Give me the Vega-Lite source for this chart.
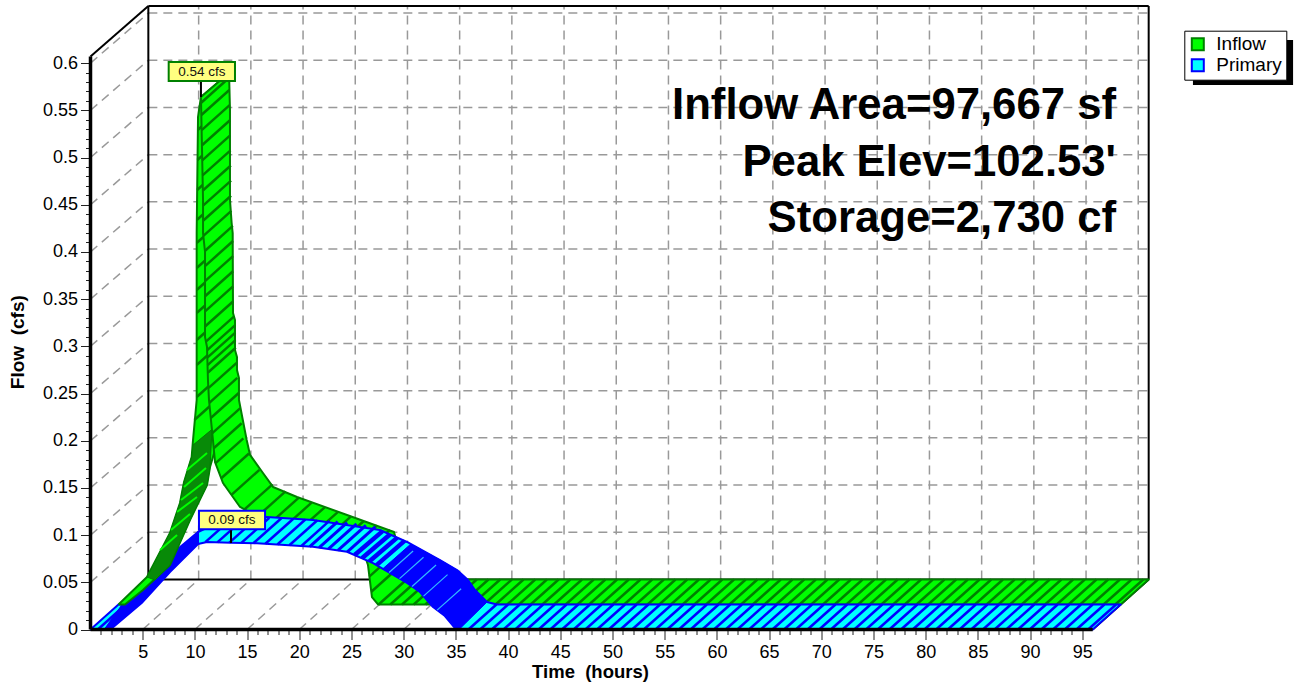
{"$schema":"https://vega.github.io/schema/vega-lite/v6.json","autosize":"none","padding":{"left":90.5,"top":5,"right":235.5,"bottom":52.5},"width":1058.5,"height":624.5,"background":"white",
"datasets":{
"polys":[
{"p":"BA1","s":"Primary","i":0,"x":0,"y":0},{"p":"BA1","s":"Primary","i":1,"x":1.39,"y":0},{"p":"BA1","s":"Primary","i":2,"x":3.11,"y":0.0265},{"p":"BA1","s":"Primary","i":3,"x":2.68,"y":0.0265},{"p":"BA1","s":"Primary","i":4,"x":0,"y":0},
{"p":"BA2","s":"Primary","i":0,"x":1.39,"y":0},{"p":"BA2","s":"Primary","i":1,"x":1.96,"y":0.0005},{"p":"BA2","s":"Primary","i":2,"x":4.9,"y":0.0281},{"p":"BA2","s":"Primary","i":3,"x":7.61,"y":0.0609},{"p":"BA2","s":"Primary","i":4,"x":10.3,"y":0.0906},{"p":"BA2","s":"Primary","i":5,"x":12.98,"y":0.1171},{"p":"BA2","s":"Primary","i":6,"x":10.3,"y":0.1033},{"p":"BA2","s":"Primary","i":7,"x":7.9,"y":0.081},{"p":"BA2","s":"Primary","i":8,"x":5.7,"y":0.0577},{"p":"BA2","s":"Primary","i":9,"x":3.3,"y":0.027},{"p":"BA2","s":"Primary","i":10,"x":3.11,"y":0.0265},{"p":"BA2","s":"Primary","i":11,"x":1.39,"y":0},
{"p":"RG","s":"Inflow","i":0,"x":2.68,"y":0.0265},{"p":"RG","s":"Inflow","i":1,"x":5.41,"y":0.0556},{"p":"RG","s":"Inflow","i":2,"x":7.61,"y":0.1022},{"p":"RG","s":"Inflow","i":3,"x":8.57,"y":0.134},{"p":"RG","s":"Inflow","i":4,"x":8.96,"y":0.1563},{"p":"RG","s":"Inflow","i":5,"x":9.69,"y":0.1827},{"p":"RG","s":"Inflow","i":6,"x":9.82,"y":0.2007},{"p":"RG","s":"Inflow","i":7,"x":10.17,"y":0.2431},{"p":"RG","s":"Inflow","i":8,"x":10.17,"y":0.42},{"p":"RG","s":"Inflow","i":9,"x":10.3,"y":0.5429},{"p":"RG","s":"Inflow","i":10,"x":10.58,"y":0.5641},{"p":"RG","s":"Inflow","i":11,"x":13.27,"y":0.5895},{"p":"RG","s":"Inflow","i":12,"x":11.93,"y":0.1901},{"p":"RG","s":"Inflow","i":13,"x":11.45,"y":0.1721},{"p":"RG","s":"Inflow","i":14,"x":11.16,"y":0.1531},{"p":"RG","s":"Inflow","i":15,"x":9.53,"y":0.116},{"p":"RG","s":"Inflow","i":16,"x":7.61,"y":0.0683},{"p":"RG","s":"Inflow","i":17,"x":5.03,"y":0.0418},{"p":"RG","s":"Inflow","i":18,"x":3.3,"y":0.0265},{"p":"RG","s":"Inflow","i":19,"x":2.68,"y":0.0265},
{"p":"DG","s":"Inflow","i":0,"x":5.41,"y":0.0556},{"p":"DG","s":"Inflow","i":1,"x":7.61,"y":0.1022},{"p":"DG","s":"Inflow","i":2,"x":8.57,"y":0.134},{"p":"DG","s":"Inflow","i":3,"x":8.96,"y":0.1563},{"p":"DG","s":"Inflow","i":4,"x":9.69,"y":0.1827},{"p":"DG","s":"Inflow","i":5,"x":9.82,"y":0.1954},{"p":"DG","s":"Inflow","i":6,"x":11.64,"y":0.212},{"p":"DG","s":"Inflow","i":7,"x":11.45,"y":0.1721},{"p":"DG","s":"Inflow","i":8,"x":11.16,"y":0.1531},{"p":"DG","s":"Inflow","i":9,"x":9.53,"y":0.116},{"p":"DG","s":"Inflow","i":10,"x":7.61,"y":0.0683},{"p":"DG","s":"Inflow","i":11,"x":6.18,"y":0.0524},{"p":"DG","s":"Inflow","i":12,"x":5.41,"y":0.0556},
{"p":"FG","s":"Inflow","i":0,"x":10.58,"y":0.5641},{"p":"FG","s":"Inflow","i":1,"x":10.78,"y":0.455},{"p":"FG","s":"Inflow","i":2,"x":10.78,"y":0.42},{"p":"FG","s":"Inflow","i":3,"x":10.97,"y":0.3999},{"p":"FG","s":"Inflow","i":4,"x":10.97,"y":0.3098},{"p":"FG","s":"Inflow","i":5,"x":11.16,"y":0.2993},{"p":"FG","s":"Inflow","i":6,"x":11.25,"y":0.2643},{"p":"FG","s":"Inflow","i":7,"x":11.35,"y":0.2431},{"p":"FG","s":"Inflow","i":8,"x":11.73,"y":0.2007},{"p":"FG","s":"Inflow","i":9,"x":11.93,"y":0.1774},{"p":"FG","s":"Inflow","i":10,"x":12.69,"y":0.1552},{"p":"FG","s":"Inflow","i":11,"x":14.32,"y":0.1298},{"p":"FG","s":"Inflow","i":12,"x":17,"y":0.1139},{"p":"FG","s":"Inflow","i":13,"x":21.79,"y":0.0948},{"p":"FG","s":"Inflow","i":14,"x":26.29,"y":0.0779},{"p":"FG","s":"Inflow","i":15,"x":26.58,"y":0.0683},{"p":"FG","s":"Inflow","i":16,"x":26.96,"y":0.0344},{"p":"FG","s":"Inflow","i":17,"x":27.54,"y":0.0265},{"p":"FG","s":"Inflow","i":18,"x":98.68,"y":0.0265},{"p":"FG","s":"Inflow","i":19,"x":101.36,"y":0.053},{"p":"FG","s":"Inflow","i":20,"x":30.32,"y":0.053},{"p":"FG","s":"Inflow","i":21,"x":29.07,"y":0.1033},{"p":"FG","s":"Inflow","i":22,"x":24.57,"y":0.1213},{"p":"FG","s":"Inflow","i":23,"x":19.78,"y":0.1404},{"p":"FG","s":"Inflow","i":24,"x":17.48,"y":0.151},{"p":"FG","s":"Inflow","i":25,"x":16.52,"y":0.1658},{"p":"FG","s":"Inflow","i":26,"x":15.28,"y":0.1849},{"p":"FG","s":"Inflow","i":27,"x":14.96,"y":0.2007},{"p":"FG","s":"Inflow","i":28,"x":14.22,"y":0.2431},{"p":"FG","s":"Inflow","i":29,"x":14.22,"y":0.2664},{"p":"FG","s":"Inflow","i":30,"x":14.03,"y":0.2749},{"p":"FG","s":"Inflow","i":31,"x":14.03,"y":0.2887},{"p":"FG","s":"Inflow","i":32,"x":13.84,"y":0.2961},{"p":"FG","s":"Inflow","i":33,"x":13.84,"y":0.3279},{"p":"FG","s":"Inflow","i":34,"x":13.65,"y":0.3353},{"p":"FG","s":"Inflow","i":35,"x":13.62,"y":0.42},{"p":"FG","s":"Inflow","i":36,"x":13.52,"y":0.4306},{"p":"FG","s":"Inflow","i":37,"x":13.36,"y":0.455},{"p":"FG","s":"Inflow","i":38,"x":13.36,"y":0.5503},{"p":"FG","s":"Inflow","i":39,"x":13.27,"y":0.5895},{"p":"FG","s":"Inflow","i":40,"x":10.58,"y":0.5641},
{"p":"BC","s":"Primary","i":0,"x":10.3,"y":0.0906},{"p":"BC","s":"Primary","i":1,"x":11.16,"y":0.0927},{"p":"BC","s":"Primary","i":2,"x":13.46,"y":0.0919},{"p":"BC","s":"Primary","i":3,"x":15.95,"y":0.0913},{"p":"BC","s":"Primary","i":4,"x":21.31,"y":0.0877},{"p":"BC","s":"Primary","i":5,"x":24.57,"y":0.0824},{"p":"BC","s":"Primary","i":6,"x":27.06,"y":0.0704},{"p":"BC","s":"Primary","i":7,"x":30.32,"y":0.0493},{"p":"BC","s":"Primary","i":8,"x":31.56,"y":0.0397},{"p":"BC","s":"Primary","i":9,"x":32.81,"y":0.0238},{"p":"BC","s":"Primary","i":10,"x":33.95,"y":0.0143},{"p":"BC","s":"Primary","i":11,"x":34.91,"y":0.0016},{"p":"BC","s":"Primary","i":12,"x":35.3,"y":0},{"p":"BC","s":"Primary","i":13,"x":96,"y":0},{"p":"BC","s":"Primary","i":14,"x":98.68,"y":0.0265},{"p":"BC","s":"Primary","i":15,"x":38.94,"y":0.0265},{"p":"BC","s":"Primary","i":16,"x":37.98,"y":0.0291},{"p":"BC","s":"Primary","i":17,"x":36.83,"y":0.0418},{"p":"BC","s":"Primary","i":18,"x":36.16,"y":0.0524},{"p":"BC","s":"Primary","i":19,"x":35.11,"y":0.063},{"p":"BC","s":"Primary","i":20,"x":33.48,"y":0.0736},{"p":"BC","s":"Primary","i":21,"x":30.32,"y":0.0927},{"p":"BC","s":"Primary","i":22,"x":27.73,"y":0.1054},{"p":"BC","s":"Primary","i":23,"x":21.31,"y":0.116},{"p":"BC","s":"Primary","i":24,"x":16.91,"y":0.1192},{"p":"BC","s":"Primary","i":25,"x":12.98,"y":0.1171},{"p":"BC","s":"Primary","i":26,"x":10.3,"y":0.1033},{"p":"BC","s":"Primary","i":27,"x":10.3,"y":0.0906},
{"p":"BD","s":"Primary","i":0,"x":28,"y":0.0643},{"p":"BD","s":"Primary","i":1,"x":30.32,"y":0.0493},{"p":"BD","s":"Primary","i":2,"x":31.56,"y":0.0397},{"p":"BD","s":"Primary","i":3,"x":32.81,"y":0.0238},{"p":"BD","s":"Primary","i":4,"x":33.95,"y":0.0143},{"p":"BD","s":"Primary","i":5,"x":34.91,"y":0.0016},{"p":"BD","s":"Primary","i":6,"x":35.3,"y":0},{"p":"BD","s":"Primary","i":7,"x":37.98,"y":0.0291},{"p":"BD","s":"Primary","i":8,"x":36.83,"y":0.0418},{"p":"BD","s":"Primary","i":9,"x":36.16,"y":0.0524},{"p":"BD","s":"Primary","i":10,"x":35.11,"y":0.063},{"p":"BD","s":"Primary","i":11,"x":33.48,"y":0.0736},{"p":"BD","s":"Primary","i":12,"x":30.68,"y":0.0905},{"p":"BD","s":"Primary","i":13,"x":28,"y":0.0643}
],
"lines":[
{"g":"dash","x":5.54,"y":0.103,"x2":101.36,"y2":0.103},{"g":"dash","x":5.54,"y":0.153,"x2":101.36,"y2":0.153},{"g":"dash","x":5.54,"y":0.203,"x2":101.36,"y2":0.203},{"g":"dash","x":5.54,"y":0.253,"x2":101.36,"y2":0.253},{"g":"dash","x":5.54,"y":0.303,"x2":101.36,"y2":0.303},{"g":"dash","x":5.54,"y":0.353,"x2":101.36,"y2":0.353},{"g":"dash","x":5.54,"y":0.403,"x2":101.36,"y2":0.403},{"g":"dash","x":5.54,"y":0.453,"x2":101.36,"y2":0.453},{"g":"dash","x":5.54,"y":0.503,"x2":101.36,"y2":0.503},{"g":"dash","x":5.54,"y":0.553,"x2":101.36,"y2":0.553},{"g":"dash","x":5.54,"y":0.603,"x2":101.36,"y2":0.603},{"g":"dash","x":5.54,"y":0.653,"x2":101.36,"y2":0.653},
{"g":"dash","x":10.36,"y":0.053,"x2":10.36,"y2":0.6605},{"g":"dash","x":15.36,"y":0.053,"x2":15.36,"y2":0.6605},{"g":"dash","x":20.36,"y":0.053,"x2":20.36,"y2":0.6605},{"g":"dash","x":25.36,"y":0.053,"x2":25.36,"y2":0.6605},{"g":"dash","x":30.36,"y":0.053,"x2":30.36,"y2":0.6605},{"g":"dash","x":35.36,"y":0.053,"x2":35.36,"y2":0.6605},{"g":"dash","x":40.36,"y":0.053,"x2":40.36,"y2":0.6605},{"g":"dash","x":45.36,"y":0.053,"x2":45.36,"y2":0.6605},{"g":"dash","x":50.36,"y":0.053,"x2":50.36,"y2":0.6605},{"g":"dash","x":55.36,"y":0.053,"x2":55.36,"y2":0.6605},{"g":"dash","x":60.36,"y":0.053,"x2":60.36,"y2":0.6605},{"g":"dash","x":65.36,"y":0.053,"x2":65.36,"y2":0.6605},{"g":"dash","x":70.36,"y":0.053,"x2":70.36,"y2":0.6605},{"g":"dash","x":75.36,"y":0.053,"x2":75.36,"y2":0.6605},{"g":"dash","x":80.36,"y":0.053,"x2":80.36,"y2":0.6605},{"g":"dash","x":85.36,"y":0.053,"x2":85.36,"y2":0.6605},{"g":"dash","x":90.36,"y":0.053,"x2":90.36,"y2":0.6605},{"g":"dash","x":95.36,"y":0.053,"x2":95.36,"y2":0.6605},{"g":"dash","x":100.36,"y":0.053,"x2":100.36,"y2":0.6605},
{"g":"dash","x":0,"y":0.05,"x2":5.54,"y2":0.103},{"g":"dash","x":0,"y":0.1,"x2":5.54,"y2":0.153},{"g":"dash","x":0,"y":0.15,"x2":5.54,"y2":0.203},{"g":"dash","x":0,"y":0.2,"x2":5.54,"y2":0.253},{"g":"dash","x":0,"y":0.25,"x2":5.54,"y2":0.303},{"g":"dash","x":0,"y":0.3,"x2":5.54,"y2":0.353},{"g":"dash","x":0,"y":0.35,"x2":5.54,"y2":0.403},{"g":"dash","x":0,"y":0.4,"x2":5.54,"y2":0.453},{"g":"dash","x":0,"y":0.45,"x2":5.54,"y2":0.503},{"g":"dash","x":0,"y":0.5,"x2":5.54,"y2":0.553},{"g":"dash","x":0,"y":0.55,"x2":5.54,"y2":0.603},{"g":"dash","x":0,"y":0.6,"x2":5.54,"y2":0.653},
{"g":"dash","x":5,"y":0,"x2":10.36,"y2":0.053},{"g":"dash","x":10,"y":0,"x2":15.36,"y2":0.053},{"g":"dash","x":15,"y":0,"x2":20.36,"y2":0.053},{"g":"dash","x":20,"y":0,"x2":25.36,"y2":0.053},{"g":"dash","x":25,"y":0,"x2":30.36,"y2":0.053},{"g":"dash","x":30,"y":0,"x2":35.36,"y2":0.053},{"g":"dash","x":35,"y":0,"x2":40.36,"y2":0.053},{"g":"dash","x":40,"y":0,"x2":45.36,"y2":0.053},{"g":"dash","x":45,"y":0,"x2":50.36,"y2":0.053},{"g":"dash","x":50,"y":0,"x2":55.36,"y2":0.053},{"g":"dash","x":55,"y":0,"x2":60.36,"y2":0.053},{"g":"dash","x":60,"y":0,"x2":65.36,"y2":0.053},{"g":"dash","x":65,"y":0,"x2":70.36,"y2":0.053},{"g":"dash","x":70,"y":0,"x2":75.36,"y2":0.053},{"g":"dash","x":75,"y":0,"x2":80.36,"y2":0.053},{"g":"dash","x":80,"y":0,"x2":85.36,"y2":0.053},{"g":"dash","x":85,"y":0,"x2":90.36,"y2":0.053},{"g":"dash","x":90,"y":0,"x2":95.36,"y2":0.053},{"g":"dash","x":95,"y":0,"x2":100.36,"y2":0.053},
{"g":"back","x":5.54,"y":0.053,"x2":5.54,"y2":0.6605},{"g":"back","x":5.54,"y":0.6605,"x2":101.36,"y2":0.6605},{"g":"back","x":101.36,"y":0.053,"x2":101.36,"y2":0.6605},{"g":"back","x":0,"y":0.607,"x2":5.54,"y2":0.6605},{"g":"back","x":96,"y":0,"x2":101.36,"y2":0.053},{"g":"back","x":5.54,"y":0.053,"x2":101.36,"y2":0.053},
{"g":"front","x":0,"y":0,"x2":0,"y2":0.607},{"g":"front","x":0,"y":0,"x2":96,"y2":0},
{"g":"lead","x":10.58,"y":0.5811,"x2":10.58,"y2":0.5641},{"g":"lead","x":13.46,"y":0.1061,"x2":13.46,"y2":0.0916},
{"g":"a1","x":0.7,"y":0,"x2":3.38,"y2":0.0265},
{"g":"r","x":10.27,"y":0.5291,"x2":12.95,"y2":0.5556},{"g":"r","x":10.24,"y":0.4974,"x2":12.92,"y2":0.5239},{"g":"r","x":10.21,"y":0.4656,"x2":12.89,"y2":0.4921},{"g":"r","x":10.18,"y":0.4338,"x2":12.86,"y2":0.4603},{"g":"r","x":10.17,"y":0.4094,"x2":12.85,"y2":0.4359},{"g":"r","x":10.17,"y":0.3829,"x2":12.85,"y2":0.4094},{"g":"r","x":10.17,"y":0.3596,"x2":12.85,"y2":0.3861},{"g":"r","x":10.17,"y":0.3353,"x2":12.85,"y2":0.3618},{"g":"r","x":10.17,"y":0.3067,"x2":12.85,"y2":0.3332},{"g":"r","x":10.17,"y":0.2802,"x2":12.85,"y2":0.3067},{"g":"r","x":10.17,"y":0.2463,"x2":12.85,"y2":0.2728},{"g":"r","x":9.95,"y":0.2219,"x2":12.63,"y2":0.2484},
{"g":"slit","x":9.24,"y":0.169,"x2":11.16,"y2":0.187},{"g":"slit","x":8.96,"y":0.151,"x2":11.06,"y2":0.1711},{"g":"slit","x":8.67,"y":0.1372,"x2":10.78,"y2":0.1552},{"g":"slit","x":8.29,"y":0.1245,"x2":10.2,"y2":0.1404},{"g":"slit","x":7.71,"y":0.1054,"x2":9.53,"y2":0.1223},{"g":"slit","x":6.66,"y":0.0842,"x2":8.29,"y2":0.1001},
{"g":"f","x":10.6,"y":0.558,"x2":13.28,"y2":0.5845},{"g":"f","x":10.62,"y":0.545,"x2":13.3,"y2":0.5715},{"g":"f","x":10.65,"y":0.529,"x2":13.33,"y2":0.5555},{"g":"f","x":10.68,"y":0.513,"x2":13.36,"y2":0.5395},{"g":"f","x":10.7,"y":0.497,"x2":13.38,"y2":0.5235},{"g":"f","x":10.73,"y":0.481,"x2":13.41,"y2":0.5075},{"g":"f","x":10.76,"y":0.465,"x2":13.44,"y2":0.4915},{"g":"f","x":10.78,"y":0.449,"x2":13.46,"y2":0.4755},{"g":"f","x":10.78,"y":0.433,"x2":13.46,"y2":0.4595},{"g":"f","x":10.81,"y":0.417,"x2":13.49,"y2":0.4435},{"g":"f","x":10.95,"y":0.401,"x2":13.63,"y2":0.4275},{"g":"f","x":10.97,"y":0.385,"x2":13.65,"y2":0.4115},{"g":"f","x":10.97,"y":0.369,"x2":13.65,"y2":0.3955},{"g":"f","x":10.97,"y":0.353,"x2":13.65,"y2":0.3795},{"g":"f","x":10.97,"y":0.337,"x2":13.65,"y2":0.3635},{"g":"f","x":10.97,"y":0.321,"x2":13.65,"y2":0.3475},{"g":"f","x":11.05,"y":0.305,"x2":13.73,"y2":0.3315},{"g":"f","x":11.18,"y":0.296,"x2":13.86,"y2":0.3225},{"g":"f","x":11.19,"y":0.288,"x2":13.87,"y2":0.3145},{"g":"f","x":11.21,"y":0.28,"x2":13.89,"y2":0.3065},{"g":"f","x":11.23,"y":0.272,"x2":13.91,"y2":0.2985},{"g":"f","x":11.32,"y":0.256,"x2":14,"y2":0.2825},{"g":"f","x":11.38,"y":0.24,"x2":14.06,"y2":0.2665},{"g":"f","x":11.52,"y":0.224,"x2":14.2,"y2":0.2505},{"g":"f","x":11.67,"y":0.208,"x2":14.35,"y2":0.2345},{"g":"f","x":11.8,"y":0.192,"x2":14.48,"y2":0.2185},{"g":"f","x":11.96,"y":0.176,"x2":14.64,"y2":0.2025},{"g":"f","x":12.5,"y":0.16,"x2":15.18,"y2":0.1865},{"g":"f","x":13.5,"y":0.1426,"x2":16.18,"y2":0.1691},{"g":"f","x":14.75,"y":0.1272,"x2":17.43,"y2":0.1537},{"g":"f","x":16,"y":0.1198,"x2":18.68,"y2":0.1463},{"g":"f","x":17.25,"y":0.1129,"x2":19.93,"y2":0.1394},{"g":"f","x":18.5,"y":0.1079,"x2":21.18,"y2":0.1344},{"g":"f","x":19.75,"y":0.1029,"x2":22.43,"y2":0.1294},{"g":"f","x":21,"y":0.0979,"x2":23.68,"y2":0.1244},{"g":"f","x":22.25,"y":0.0931,"x2":24.93,"y2":0.1196},{"g":"f","x":23.5,"y":0.0884,"x2":26.18,"y2":0.1149},{"g":"f","x":24.75,"y":0.0837,"x2":27.43,"y2":0.1102},{"g":"f","x":26,"y":0.079,"x2":28.68,"y2":0.1055},{"g":"f","x":26.7,"y":0.056,"x2":29.38,"y2":0.0825},{"g":"f","x":26.9,"y":0.04,"x2":29.58,"y2":0.0665},
{"g":"f","x":27.6,"y":0.0265,"x2":30.28,"y2":0.053},{"g":"f","x":28.72,"y":0.0265,"x2":31.4,"y2":0.053},{"g":"f","x":29.84,"y":0.0265,"x2":32.52,"y2":0.053},{"g":"f","x":30.96,"y":0.0265,"x2":33.64,"y2":0.053},{"g":"f","x":32.08,"y":0.0265,"x2":34.76,"y2":0.053},{"g":"f","x":33.2,"y":0.0265,"x2":35.88,"y2":0.053},{"g":"f","x":34.32,"y":0.0265,"x2":37,"y2":0.053},{"g":"f","x":35.44,"y":0.0265,"x2":38.12,"y2":0.053},{"g":"f","x":36.56,"y":0.0265,"x2":39.24,"y2":0.053},{"g":"f","x":37.68,"y":0.0265,"x2":40.36,"y2":0.053},{"g":"f","x":38.8,"y":0.0265,"x2":41.48,"y2":0.053},{"g":"f","x":39.92,"y":0.0265,"x2":42.6,"y2":0.053},{"g":"f","x":41.04,"y":0.0265,"x2":43.72,"y2":0.053},{"g":"f","x":42.16,"y":0.0265,"x2":44.84,"y2":0.053},{"g":"f","x":43.28,"y":0.0265,"x2":45.96,"y2":0.053},{"g":"f","x":44.4,"y":0.0265,"x2":47.08,"y2":0.053},{"g":"f","x":45.52,"y":0.0265,"x2":48.2,"y2":0.053},{"g":"f","x":46.64,"y":0.0265,"x2":49.32,"y2":0.053},{"g":"f","x":47.76,"y":0.0265,"x2":50.44,"y2":0.053},{"g":"f","x":48.88,"y":0.0265,"x2":51.56,"y2":0.053},{"g":"f","x":50,"y":0.0265,"x2":52.68,"y2":0.053},{"g":"f","x":51.12,"y":0.0265,"x2":53.8,"y2":0.053},{"g":"f","x":52.24,"y":0.0265,"x2":54.92,"y2":0.053},{"g":"f","x":53.36,"y":0.0265,"x2":56.04,"y2":0.053},{"g":"f","x":54.48,"y":0.0265,"x2":57.16,"y2":0.053},{"g":"f","x":55.6,"y":0.0265,"x2":58.28,"y2":0.053},{"g":"f","x":56.72,"y":0.0265,"x2":59.4,"y2":0.053},{"g":"f","x":57.84,"y":0.0265,"x2":60.52,"y2":0.053},{"g":"f","x":58.96,"y":0.0265,"x2":61.64,"y2":0.053},{"g":"f","x":60.08,"y":0.0265,"x2":62.76,"y2":0.053},{"g":"f","x":61.2,"y":0.0265,"x2":63.88,"y2":0.053},{"g":"f","x":62.32,"y":0.0265,"x2":65,"y2":0.053},{"g":"f","x":63.44,"y":0.0265,"x2":66.12,"y2":0.053},{"g":"f","x":64.56,"y":0.0265,"x2":67.24,"y2":0.053},{"g":"f","x":65.68,"y":0.0265,"x2":68.36,"y2":0.053},{"g":"f","x":66.8,"y":0.0265,"x2":69.48,"y2":0.053},{"g":"f","x":67.92,"y":0.0265,"x2":70.6,"y2":0.053},{"g":"f","x":69.04,"y":0.0265,"x2":71.72,"y2":0.053},{"g":"f","x":70.16,"y":0.0265,"x2":72.84,"y2":0.053},{"g":"f","x":71.28,"y":0.0265,"x2":73.96,"y2":0.053},{"g":"f","x":72.4,"y":0.0265,"x2":75.08,"y2":0.053},{"g":"f","x":73.52,"y":0.0265,"x2":76.2,"y2":0.053},{"g":"f","x":74.64,"y":0.0265,"x2":77.32,"y2":0.053},{"g":"f","x":75.76,"y":0.0265,"x2":78.44,"y2":0.053},{"g":"f","x":76.88,"y":0.0265,"x2":79.56,"y2":0.053},{"g":"f","x":78,"y":0.0265,"x2":80.68,"y2":0.053},{"g":"f","x":79.12,"y":0.0265,"x2":81.8,"y2":0.053},{"g":"f","x":80.24,"y":0.0265,"x2":82.92,"y2":0.053},{"g":"f","x":81.36,"y":0.0265,"x2":84.04,"y2":0.053},{"g":"f","x":82.48,"y":0.0265,"x2":85.16,"y2":0.053},{"g":"f","x":83.6,"y":0.0265,"x2":86.28,"y2":0.053},{"g":"f","x":84.72,"y":0.0265,"x2":87.4,"y2":0.053},{"g":"f","x":85.84,"y":0.0265,"x2":88.52,"y2":0.053},{"g":"f","x":86.96,"y":0.0265,"x2":89.64,"y2":0.053},{"g":"f","x":88.08,"y":0.0265,"x2":90.76,"y2":0.053},{"g":"f","x":89.2,"y":0.0265,"x2":91.88,"y2":0.053},{"g":"f","x":90.32,"y":0.0265,"x2":93,"y2":0.053},{"g":"f","x":91.44,"y":0.0265,"x2":94.12,"y2":0.053},{"g":"f","x":92.56,"y":0.0265,"x2":95.24,"y2":0.053},{"g":"f","x":93.68,"y":0.0265,"x2":96.36,"y2":0.053},{"g":"f","x":94.8,"y":0.0265,"x2":97.48,"y2":0.053},{"g":"f","x":95.92,"y":0.0265,"x2":98.6,"y2":0.053},{"g":"f","x":97.04,"y":0.0265,"x2":99.72,"y2":0.053},{"g":"f","x":98.16,"y":0.0265,"x2":100.84,"y2":0.053},
{"g":"bt","x":11,"y":0.0925,"x2":13.68,"y2":0.119},{"g":"bt","x":12.15,"y":0.0923,"x2":14.83,"y2":0.1188},{"g":"bt","x":13.3,"y":0.092,"x2":15.98,"y2":0.1185},{"g":"bt","x":14.45,"y":0.0917,"x2":17.13,"y2":0.1182},{"g":"bt","x":15.6,"y":0.0914,"x2":18.28,"y2":0.1179},{"g":"bt","x":16.75,"y":0.0908,"x2":19.43,"y2":0.1173},{"g":"bt","x":17.9,"y":0.09,"x2":20.58,"y2":0.1165},{"g":"bt","x":19.05,"y":0.0892,"x2":21.73,"y2":0.1157},{"g":"bt","x":20.2,"y":0.0885,"x2":22.88,"y2":0.115},
{"g":"bt","x":36.2,"y":0,"x2":38.88,"y2":0.0265},{"g":"bt","x":37.32,"y":0,"x2":40,"y2":0.0265},{"g":"bt","x":38.44,"y":0,"x2":41.12,"y2":0.0265},{"g":"bt","x":39.56,"y":0,"x2":42.24,"y2":0.0265},{"g":"bt","x":40.68,"y":0,"x2":43.36,"y2":0.0265},{"g":"bt","x":41.8,"y":0,"x2":44.48,"y2":0.0265},{"g":"bt","x":42.92,"y":0,"x2":45.6,"y2":0.0265},{"g":"bt","x":44.04,"y":0,"x2":46.72,"y2":0.0265},{"g":"bt","x":45.16,"y":0,"x2":47.84,"y2":0.0265},{"g":"bt","x":46.28,"y":0,"x2":48.96,"y2":0.0265},{"g":"bt","x":47.4,"y":0,"x2":50.08,"y2":0.0265},{"g":"bt","x":48.52,"y":0,"x2":51.2,"y2":0.0265},{"g":"bt","x":49.64,"y":0,"x2":52.32,"y2":0.0265},{"g":"bt","x":50.76,"y":0,"x2":53.44,"y2":0.0265},{"g":"bt","x":51.88,"y":0,"x2":54.56,"y2":0.0265},{"g":"bt","x":53,"y":0,"x2":55.68,"y2":0.0265},{"g":"bt","x":54.12,"y":0,"x2":56.8,"y2":0.0265},{"g":"bt","x":55.24,"y":0,"x2":57.92,"y2":0.0265},{"g":"bt","x":56.36,"y":0,"x2":59.04,"y2":0.0265},{"g":"bt","x":57.48,"y":0,"x2":60.16,"y2":0.0265},{"g":"bt","x":58.6,"y":0,"x2":61.28,"y2":0.0265},{"g":"bt","x":59.72,"y":0,"x2":62.4,"y2":0.0265},{"g":"bt","x":60.84,"y":0,"x2":63.52,"y2":0.0265},{"g":"bt","x":61.96,"y":0,"x2":64.64,"y2":0.0265},{"g":"bt","x":63.08,"y":0,"x2":65.76,"y2":0.0265},{"g":"bt","x":64.2,"y":0,"x2":66.88,"y2":0.0265},{"g":"bt","x":65.32,"y":0,"x2":68,"y2":0.0265},{"g":"bt","x":66.44,"y":0,"x2":69.12,"y2":0.0265},{"g":"bt","x":67.56,"y":0,"x2":70.24,"y2":0.0265},{"g":"bt","x":68.68,"y":0,"x2":71.36,"y2":0.0265},{"g":"bt","x":69.8,"y":0,"x2":72.48,"y2":0.0265},{"g":"bt","x":70.92,"y":0,"x2":73.6,"y2":0.0265},{"g":"bt","x":72.04,"y":0,"x2":74.72,"y2":0.0265},{"g":"bt","x":73.16,"y":0,"x2":75.84,"y2":0.0265},{"g":"bt","x":74.28,"y":0,"x2":76.96,"y2":0.0265},{"g":"bt","x":75.4,"y":0,"x2":78.08,"y2":0.0265},{"g":"bt","x":76.52,"y":0,"x2":79.2,"y2":0.0265},{"g":"bt","x":77.64,"y":0,"x2":80.32,"y2":0.0265},{"g":"bt","x":78.76,"y":0,"x2":81.44,"y2":0.0265},{"g":"bt","x":79.88,"y":0,"x2":82.56,"y2":0.0265},{"g":"bt","x":81,"y":0,"x2":83.68,"y2":0.0265},{"g":"bt","x":82.12,"y":0,"x2":84.8,"y2":0.0265},{"g":"bt","x":83.24,"y":0,"x2":85.92,"y2":0.0265},{"g":"bt","x":84.36,"y":0,"x2":87.04,"y2":0.0265},{"g":"bt","x":85.48,"y":0,"x2":88.16,"y2":0.0265},{"g":"bt","x":86.6,"y":0,"x2":89.28,"y2":0.0265},{"g":"bt","x":87.72,"y":0,"x2":90.4,"y2":0.0265},{"g":"bt","x":88.84,"y":0,"x2":91.52,"y2":0.0265},{"g":"bt","x":89.96,"y":0,"x2":92.64,"y2":0.0265},{"g":"bt","x":91.08,"y":0,"x2":93.76,"y2":0.0265},{"g":"bt","x":92.2,"y":0,"x2":94.88,"y2":0.0265},{"g":"bt","x":93.32,"y":0,"x2":96,"y2":0.0265},{"g":"bt","x":94.44,"y":0,"x2":97.12,"y2":0.0265},{"g":"bt","x":95.56,"y":0,"x2":98.24,"y2":0.0265},
{"g":"bm","x":21,"y":0.0879,"x2":23.68,"y2":0.1144},{"g":"bm","x":21.9,"y":0.0867,"x2":24.58,"y2":0.1132},{"g":"bm","x":22.8,"y":0.0853,"x2":25.48,"y2":0.1118},{"g":"bm","x":23.7,"y":0.0838,"x2":26.38,"y2":0.1103},{"g":"bm","x":24.6,"y":0.0823,"x2":27.28,"y2":0.1088},
{"g":"bk","x":25.3,"y":0.0789,"x2":27.98,"y2":0.1042},{"g":"bk","x":26,"y":0.0755,"x2":28.68,"y2":0.1007},{"g":"bk","x":26.7,"y":0.0721,"x2":29.38,"y2":0.0973},{"g":"bk","x":27.4,"y":0.0682,"x2":30.08,"y2":0.0939},
{"g":"cy","x":28.6,"y":0.0604,"x2":30.9,"y2":0.0831},{"g":"cy","x":29.6,"y":0.0539,"x2":31.9,"y2":0.0766},{"g":"cy","x":30.8,"y":0.0456,"x2":33.1,"y2":0.0683},{"g":"cy","x":31.9,"y":0.0354,"x2":34.2,"y2":0.0581},{"g":"cy","x":33.2,"y":0.0205,"x2":35.5,"y2":0.0432}
],
"tags":[{"s":"Inflow","x":7.49,"x2":13.84,"y":0.6012,"y2":0.5811,"tx":10.67,"ty":0.5911,"label":"0.54 cfs"},{"s":"Primary","x":10.39,"x2":16.72,"y":0.1258,"y2":0.1061,"tx":13.55,"ty":0.116,"label":"0.09 cfs"}],
"notes":[{"x":98.23,"y":0.5408,"label":"Inflow Area=97,667 sf"},{"x":98.23,"y":0.4804,"label":"Peak Elev=102.53'"},{"x":98.23,"y":0.4211,"label":"Storage=2,730 cf"}],
"shadow":[{"x":105.6,"x2":115.19,"y":0.6245,"y2":0.5768}]
},
"data":{"name":"lines"},
"encoding":{
"x":{"field":"x","type":"quantitative","scale":{"domain":[0,101.39],"nice":false,"zero":false},
"axis":{"title":"Time\u00a0 (hours)","titleFont":"Liberation Sans","titleFontSize":18.5,"titleFontWeight":"bold","titleColor":"black","titleX":499.5,"titleY":33,"titleAnchor":"middle","domain":false,"grid":false,"values":[1,2,3,4,5,6,7,8,9,10,11,12,13,14,15,16,17,18,19,20,21,22,23,24,25,26,27,28,29,30,31,32,33,34,35,36,37,38,39,40,41,42,43,44,45,46,47,48,49,50,51,52,53,54,55,56,57,58,59,60,61,62,63,64,65,66,67,68,69,70,71,72,73,74,75,76,77,78,79,80,81,82,83,84,85,86,87,88,89,90,91,92,93,94,95],"labelExpr":"datum.value % 5 === 0 ? datum.label : ''","labelOverlap":false,"labelFlush":false,"labelBound":false,"labelFont":"Liberation Sans","labelFontSize":18,"labelColor":"black","labelPadding":4,"tickColor":"#222","tickWidth":1,"tickSize":{"condition":{"test":"datum.value % 5 === 0","value":10},"value":5}}},
"y":{"field":"y","type":"quantitative","scale":{"domain":[0,0.66155],"nice":false,"zero":false},
"axis":{"title":"Flow\u00a0 (cfs)","titleFont":"Liberation Sans","titleFontSize":19,"titleFontWeight":"bold","titleColor":"black","titleX":-63,"titleY":336.7,"titleAnchor":"middle","domain":false,"grid":false,"values":[0,0.01,0.02,0.03,0.04,0.05,0.06,0.07,0.08,0.09,0.1,0.11,0.12,0.13,0.14,0.15,0.16,0.17,0.18,0.19,0.2,0.21,0.22,0.23,0.24,0.25,0.26,0.27,0.28,0.29,0.3,0.31,0.32,0.33,0.34,0.35,0.36,0.37,0.38,0.39,0.4,0.41,0.42,0.43,0.44,0.45,0.46,0.47,0.48,0.49,0.5,0.51,0.52,0.53,0.54,0.55,0.56,0.57,0.58,0.59,0.6],"labelExpr":"round(datum.value*100) % 5 === 0 ? toString(round(datum.value*100)/100) : ''","labelOverlap":false,"labelFlush":false,"labelBound":false,"labelFont":"Liberation Sans","labelFontSize":18,"labelColor":"black","labelPadding":3,"tickColor":"#222","tickWidth":1,"tickSize":{"condition":{"test":"round(datum.value*100) % 5 === 0","value":10},"value":5}}}
},
"layer":[
{"transform":[{"filter":"datum.g==='dash'"}],"mark":{"type":"rule","color":"#999999","strokeWidth":1.5,"strokeDash":[9,6]},"encoding":{"x2":{"field":"x2"},"y2":{"field":"y2"}}},
{"transform":[{"filter":"datum.g==='back'"}],"mark":{"type":"rule","color":"black","strokeWidth":2},"encoding":{"x2":{"field":"x2"},"y2":{"field":"y2"}}},
{"data":{"name":"polys"},"transform":[{"filter":"datum.p==='BA1'"}],"mark":{"type":"line","strokeWidth":2,"strokeJoin":"round"},"encoding":{"order":{"field":"i"},"fill":{"field":"s","type":"nominal","scale":{"domain":["Inflow","Primary"],"range":["#00ff00","#00ffff"]}},"stroke":{"field":"s","type":"nominal","scale":{"domain":["Inflow","Primary"],"range":["#008000","#0000ff"]}}}},
{"transform":[{"filter":"datum.g==='a1'"}],"mark":{"type":"rule","color":"#0000ff","strokeWidth":2.5},"encoding":{"x2":{"field":"x2"},"y2":{"field":"y2"}}},
{"data":{"name":"polys"},"transform":[{"filter":"datum.p==='BA2'"}],"mark":{"type":"line","strokeWidth":2,"strokeJoin":"round","fill":"#0000ff","stroke":"#0000ff"},"encoding":{"order":{"field":"i"}}},
{"data":{"name":"polys"},"transform":[{"filter":"datum.p==='RG'"}],"mark":{"type":"line","strokeWidth":2,"strokeJoin":"round"},"encoding":{"order":{"field":"i"},"fill":{"field":"s","type":"nominal"},"stroke":{"field":"s","type":"nominal"}}},
{"transform":[{"filter":"datum.g==='r'"}],"mark":{"type":"rule","color":"#008000","strokeWidth":2.5},"encoding":{"x2":{"field":"x2"},"y2":{"field":"y2"}}},
{"data":{"name":"polys"},"transform":[{"filter":"datum.p==='DG'"}],"mark":{"type":"line","strokeWidth":1,"strokeJoin":"round","fill":"#088a08","stroke":"#008000"},"encoding":{"order":{"field":"i"}}},
{"transform":[{"filter":"datum.g==='slit'"}],"mark":{"type":"rule","color":"#00ff00","strokeWidth":2},"encoding":{"x2":{"field":"x2"},"y2":{"field":"y2"}}},
{"data":{"name":"polys"},"transform":[{"filter":"datum.p==='FG'"}],"mark":{"type":"line","strokeWidth":2,"strokeJoin":"round"},"encoding":{"order":{"field":"i"},"fill":{"field":"s","type":"nominal"},"stroke":{"field":"s","type":"nominal"}}},
{"transform":[{"filter":"datum.g==='f'"}],"mark":{"type":"rule","color":"#008000","strokeWidth":2.5},"encoding":{"x2":{"field":"x2"},"y2":{"field":"y2"}}},
{"data":{"name":"polys"},"transform":[{"filter":"datum.p==='BC'"}],"mark":{"type":"line","strokeWidth":2,"strokeJoin":"round"},"encoding":{"order":{"field":"i"},"fill":{"field":"s","type":"nominal"},"stroke":{"field":"s","type":"nominal"}}},
{"transform":[{"filter":"datum.g==='bt'"}],"mark":{"type":"rule","color":"#0000ff","strokeWidth":2.5},"encoding":{"x2":{"field":"x2"},"y2":{"field":"y2"}}},
{"transform":[{"filter":"datum.g==='bm'"}],"mark":{"type":"rule","color":"#0000ff","strokeWidth":3},"encoding":{"x2":{"field":"x2"},"y2":{"field":"y2"}}},
{"transform":[{"filter":"datum.g==='bk'"}],"mark":{"type":"rule","color":"#0000ff","strokeWidth":4.5},"encoding":{"x2":{"field":"x2"},"y2":{"field":"y2"}}},
{"data":{"name":"polys"},"transform":[{"filter":"datum.p==='BD'"}],"mark":{"type":"line","strokeWidth":1,"strokeJoin":"round","fill":"#0000ff","stroke":"#0000ff"},"encoding":{"order":{"field":"i"}}},
{"transform":[{"filter":"datum.g==='cy'"}],"mark":{"type":"rule","color":"#33bbff","strokeWidth":1.2},"encoding":{"x2":{"field":"x2"},"y2":{"field":"y2"}}},
{"transform":[{"filter":"datum.g==='front'"}],"mark":{"type":"rule","color":"black","strokeWidth":3.5},"encoding":{"x2":{"field":"x2"},"y2":{"field":"y2"}}},
{"transform":[{"filter":"datum.g==='lead'"}],"mark":{"type":"rule","color":"black","strokeWidth":2},"encoding":{"x2":{"field":"x2"},"y2":{"field":"y2"}}},
{"data":{"name":"tags"},"mark":{"type":"rect","fill":"#ffff80","strokeWidth":2},"encoding":{"x2":{"field":"x2"},"y2":{"field":"y2"},"stroke":{"field":"s","type":"nominal"}}},
{"data":{"name":"tags"},"mark":{"type":"text","font":"Liberation Sans","fontSize":13.5,"color":"#111","align":"center","baseline":"middle"},"encoding":{"x":{"field":"tx","type":"quantitative"},"y":{"field":"ty","type":"quantitative"},"text":{"field":"label"}}},
{"data":{"name":"notes"},"mark":{"type":"text","font":"Liberation Sans","fontSize":43.7,"fontWeight":"bold","color":"black","align":"right","baseline":"alphabetic"},"encoding":{"text":{"field":"label"}}},
{"data":{"name":"shadow"},"mark":{"type":"rect","color":"black","clip":false},"encoding":{"x2":{"field":"x2"},"y2":{"field":"y2"}}}
],
"config":{"view":{"stroke":null},"legend":{"orient":"none","legendX":1093.8,"legendY":25.7,"title":null,"symbolType":"square","symbolSize":144,"symbolStrokeWidth":2,"labelFont":"Liberation Sans","labelFontSize":19,"labelColor":"black","fillColor":"white","strokeColor":"black","padding":4,"rowPadding":0,"labelOffset":9,"symbolOpacity":1}}
}
